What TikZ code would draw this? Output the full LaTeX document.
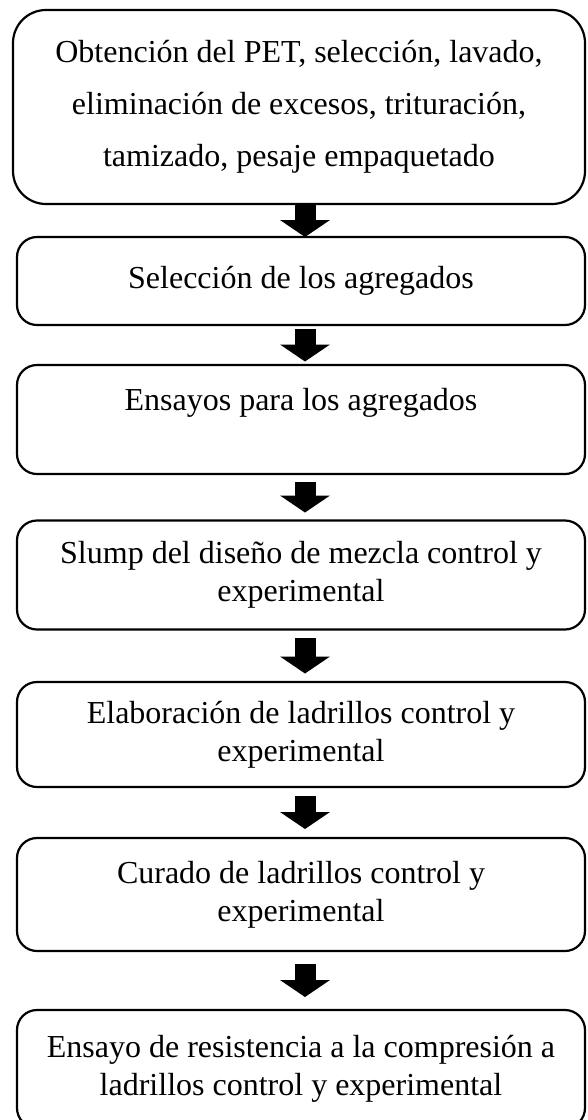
\documentclass[tikz,border=0pt]{standalone}
\usepackage{fontspec}
\setmainfont{Liberation Serif}
\usetikzlibrary{arrows.meta}
\begin{document}
\begin{tikzpicture}[x=1pt,y=-1pt,
  paso/.style={draw, line width=2.2pt, rounded corners=20pt, align=center, inner sep=0pt, outer sep=0pt,
    minimum width=568pt, font=\fontsize{32}{38}\selectfont},
  flecha/.style={draw, line width=21pt, -{Triangle[width=50pt,length=17pt,line width=0pt]},
    shorten <=#1, shorten >=#1}]
\useasboundingbox (0,0) rectangle (587,1120);
\coordinate (ax) at (305,0);

\node[paso, rounded corners=33pt, minimum width=572pt, minimum height=194pt, font=\fontsize{32}{52}\selectfont] (b1) at (299,107)
  {Obtención del PET, selección, lavado,\\eliminación de excesos, trituración,\\tamizado, pesaje empaquetado};
\node[paso, minimum height=88pt] (b2) at (301,281) {Selección de los agregados};
\node[paso, minimum height=109pt] (b3) at (301,419.5) {Ensayos para los agregados\\[-10pt] \strut};
\node[paso, minimum height=109pt] (b4) at (301,575) {Slump del diseño de mezcla control y\\experimental};
\node[paso, minimum height=105pt] (b5) at (301,734.5) {Elaboración de ladrillos control y\\experimental};
\node[paso, minimum height=113pt] (b6) at (301,894.5) {Curado de ladrillos control y\\experimental};
\node[paso, minimum height=118pt] (b7) at (301,1069) {Ensayo de resistencia a la compresión a\\ladrillos control y experimental};

\path[flecha=0pt] (b1.south -| ax) -- (b2.north -| ax);
\path[flecha=3.5pt] (b2.south -| ax) -- (b3.north -| ax);
\path[flecha=8pt] (b3.south -| ax) -- (b4.north -| ax);
\path[flecha=8.5pt] (b4.south -| ax) -- (b5.north -| ax);
\path[flecha=9pt] (b5.south -| ax) -- (b6.north -| ax);
\path[flecha=13pt] (b6.south -| ax) -- (b7.north -| ax);
\end{tikzpicture}
\end{document}
